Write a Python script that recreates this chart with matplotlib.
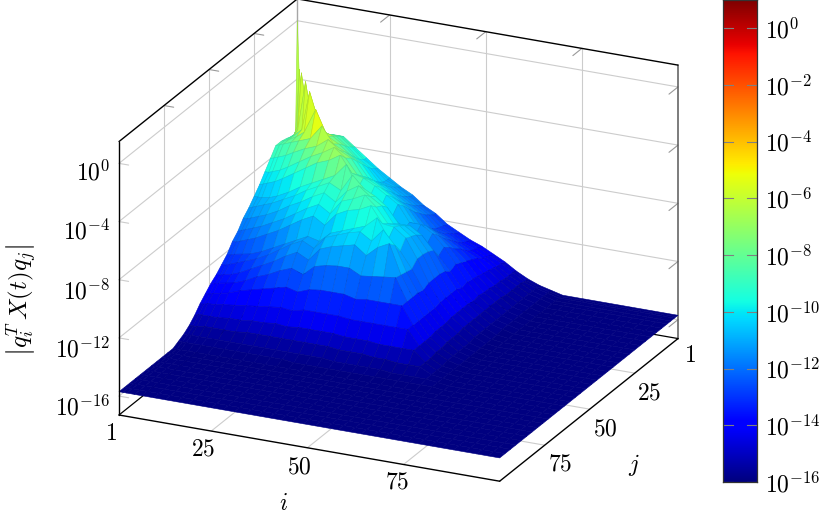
import numpy as np
import matplotlib
matplotlib.use("Agg")
from matplotlib import pyplot as plt
from mpl_toolkits.mplot3d import proj3d

plt.rcParams["mathtext.fontset"] = "cm"
plt.rcParams["font.family"] = ["DejaVu Serif"]

# matrix indices of the rows of the table below, the rest of the matrix is flat
hump_idx = [1, 2, 3, 5, 7, 10, 13, 16, 19, 22, 25, 28, 31, 34, 37, 40, 43, 46, 49, 52, 55, 58, 61, 64, 67, 70]
flat_idx = [73, 76, 79, 82, 85, 88, 91, 94, 97, 100]
floor_level = -15.7

# log10 |q_i^T X q_j|, lower triangle (symmetric matrix)
hump_rows = [
    [0.0],
    [-7.6, -3.2],
    [-7.7, -7.0, -3.3],
    [-7.6, -7.4, -7.0, -3.6],
    [-7.5, -7.4, -7.2, -6.7, -4.0],
    [-7.4, -7.3, -7.2, -6.9, -6.5, -4.8],
    [-7.4, -7.3, -7.2, -7.0, -6.8, -6.5, -5.5],
    [-8.0, -7.9, -7.8, -7.6, -7.3, -6.9, -6.6, -6.0],
    [-8.6, -8.6, -8.5, -8.3, -8.0, -7.5, -7.0, -6.6, -6.1],
    [-9.2, -9.1, -9.0, -8.8, -8.5, -8.0, -7.5, -7.0, -6.7, -6.2],
    [-9.7, -9.7, -9.7, -9.6, -9.4, -9.0, -8.5, -8.1, -7.7, -7.3, -6.4],
    [-10.2, -10.1, -10.0, -9.8, -9.6, -9.2, -8.8, -8.3, -7.9, -7.5, -7.9, -6.7],
    [-10.6, -10.6, -10.5, -10.3, -10.1, -9.7, -9.2, -8.8, -8.3, -7.9, -8.4, -7.5, -7.0],
    [-11.2, -11.1, -11.0, -10.8, -10.6, -10.2, -9.8, -9.3, -8.8, -8.4, -8.9, -7.9, -7.6, -7.2],
    [-11.6, -11.6, -11.5, -11.3, -11.1, -10.7, -10.3, -9.8, -9.3, -8.9, -9.4, -8.5, -8.1, -7.9, -7.5],
    [-12.2, -12.2, -12.1, -12.0, -11.9, -11.6, -11.2, -10.8, -10.4, -10.0, -10.2, -9.5, -9.2, -8.9, -8.6, -7.9],
    [-12.6, -12.6, -12.5, -12.3, -12.1, -11.8, -11.4, -10.9, -10.4, -10.0, -10.4, -9.5, -9.2, -8.9, -8.7, -9.2, -8.3],
    [-13.0, -13.0, -12.9, -12.8, -12.6, -12.2, -11.8, -11.4, -10.9, -10.5, -10.9, -10.0, -9.7, -9.5, -9.3, -9.9, -9.2, -8.8],
    [-13.3, -13.3, -13.2, -13.1, -13.0, -12.7, -12.3, -12.0, -11.6, -11.3, -11.6, -10.9, -10.7, -10.6, -10.6, -11.0, -10.9, -10.8, -10.7],
    [-13.7, -13.7, -13.6, -13.5, -13.4, -13.1, -12.9, -12.7, -12.5, -12.3, -12.5, -12.2, -12.1, -12.1, -12.1, -12.3, -12.2, -12.2, -12.2, -12.2],
    [-14.1, -14.1, -14.0, -14.0, -13.9, -13.8, -13.7, -13.6, -13.5, -13.4, -13.5, -13.3, -13.3, -13.3, -13.3, -13.4, -13.4, -13.4, -13.4, -13.4, -13.4],
    [-14.6, -14.5, -14.5, -14.5, -14.5, -14.4, -14.4, -14.3, -14.3, -14.2, -14.3, -14.2, -14.2, -14.2, -14.2, -14.3, -14.3, -14.3, -14.4, -14.4, -14.4, -14.4],
    [-15.0, -15.0, -15.0, -14.9, -14.9, -14.9, -14.9, -14.8, -14.8, -14.8, -14.8, -14.8, -14.8, -14.8, -14.8, -14.9, -14.9, -14.9, -15.0, -15.0, -15.1, -15.1, -15.1],
    [-15.3, -15.3, -15.3, -15.3, -15.3, -15.3, -15.3, -15.3, -15.3, -15.3, -15.3, -15.3, -15.3, -15.3, -15.3, -15.4, -15.4, -15.4, -15.4, -15.4, -15.5, -15.5, -15.5, -15.5],
    [-15.5, -15.5, -15.5, -15.5, -15.5, -15.5, -15.5, -15.5, -15.5, -15.5, -15.5, -15.5, -15.6, -15.6, -15.6, -15.6, -15.6, -15.6, -15.6, -15.6, -15.6, -15.6, -15.6, -15.6, -15.6],
    [-15.7, -15.7, -15.7, -15.7, -15.7, -15.7, -15.7, -15.7, -15.7, -15.7, -15.7, -15.7, -15.7, -15.7, -15.7, -15.7, -15.7, -15.7, -15.7, -15.7, -15.7, -15.7, -15.7, -15.7, -15.7, -15.7],
]

# height -> position in jet
colour_z = [-15.7, -15.0, -14.0, -13.0, -12.0, -11.0, -10.0, -9.0, -8.0, -7.3, -6.3, -5.8, -5.0, -3.2, 0.0]
colour_pos = [0.0, 0.03, 0.09, 0.14, 0.19, 0.24, 0.29, 0.34, 0.39, 0.44, 0.54, 0.63, 0.58, 0.53, 0.52]

i_ticks = [25, 50, 75]
j_ticks = [25, 50, 75]
z_ticks = [0, -4, -8, -12, -16]
cbar_ticks = [0, -2, -4, -6, -8, -10, -12, -14, -16]
cbar_range = [-16, 1]
xlims = [1, 100]
zlims = [-17.3, 1.5]

W, H = 830, 518
fig = plt.figure(figsize=(W / 100, H / 100), dpi=100)


def fx(px):
    return px / W


def fy(py):
    return 1 - py / H


# build the full symmetric matrix
idx = np.array(hump_idx + flat_idx)
Z = np.full((len(idx), len(idx)), floor_level)
for r, row in enumerate(hump_rows):
    for c, val in enumerate(row):
        Z[r, c] = val
        Z[c, r] = val
X, Y = np.meshgrid(idx, idx)

ax = fig.add_axes([0, 0, 1, 1], projection="3d", computed_zorder=False)
ax.set_proj_type("ortho")
ax.view_init(elev=21.9, azim=-65)
ax.set_box_aspect((419, 421, 294))
ax.set_axis_off()

# colour of a facet from the mean of its corners, mesh lines a bit darker
zmean = (Z[:-1, :-1] + Z[1:, :-1] + Z[:-1, 1:] + Z[1:, 1:]) / 4
facecol = plt.get_cmap("jet")(np.interp(zmean, colour_z, colour_pos))
edgecol = facecol.copy()
edgecol[:, :, :3] *= np.where(zmean < -15.3, 1.0, 0.88)[:, :, None]
surf = ax.plot_surface(X, Y, Z, facecolors=facecol, rstride=1, cstride=1, shade=False, zorder=2)
surf.set_edgecolor(edgecol.reshape(-1, 4))
surf.set_linewidth(0.4)

gridc = "0.8"
x0, x1 = xlims
z0, z1 = zlims


def line(xs, ys, zs, c=gridc, lw=0.8, zo=1):
    ax.plot(xs, ys, zs, color=c, lw=lw, zorder=zo, solid_capstyle="round")


# grid on the two back walls and the floor
for z in z_ticks:
    line([x0, x0], [x1, x0], [z, z])
    line([x0, x1], [x0, x0], [z, z])
    line([x0, x0 + 2.5], [x1, x1], [z, z])
    line([x1, x1], [x0, x0 + 5], [z, z], c="0.6")
for t in i_ticks:
    line([t, t], [x0, x0], [z0, z1])
    line([t, t], [x0, x1], [z0, z0])
    line([t, t], [x0, x0 + 5], [z1, z1], c="0.6")
for t in j_ticks:
    line([x0, x0], [t, t], [z0, z1])
    line([x0, x1], [t, t], [z0, z0])
    line([x0, x0 + 2.5], [t, t], [z1, z1], c="0.6")

# box
line([x0, x0], [x0, x0], [z0, z1], c="0.65", lw=1.0)
line([x1, x1], [x0, x0], [z0, z1], c="0.35", lw=1.1)
line([x0, x0], [x0, x1], [z0, z0], c="k", lw=0.9)
line([x0, x1], [x0, x0], [z0, z0], c="k", lw=0.9)
line([x0, x0], [x1, x0], [z1, z1], c="k", lw=1.0, zo=3)
line([x0, x1], [x0, x0], [z1, z1], c="k", lw=1.0, zo=3)
line([x0, x0], [x1, x1], [z0, z1], c="k", lw=1.0, zo=3)
line([x0, x1], [x1, x1], [z0, z0], c="k", lw=1.0, zo=3)
line([x1, x1], [x1, x0], [z0, z0], c="k", lw=1.0, zo=3)

ax.set_xlim(x0, x1)
ax.set_ylim(x1, x0)
ax.set_zlim(z0, z1)


# place the square 3d axes so that the box lands on the reference pixels
def corner(x, y, z):
    xs, ys, _ = proj3d.proj_transform(x, y, z, ax.get_proj())
    return ax.transData.transform((xs, ys))


fig.canvas.draw()
w_now = corner(x1, x0, z0)[0] - corner(x0, x1, z0)[0]
S = H * 559 / w_now
ax.set_position([0, 0, S / W, S / H])
fig.canvas.draw()
p = corner(x0, x1, z0)
ax.set_position([(119 - p[0]) / W, (H - 415 - p[1]) / H, S / W, S / H])

# tick labels and axis labels
fs = 17
for z, py in zip(z_ticks, [173, 232, 292, 350, 408]):
    fig.text(fx(110), fy(py), "$10^{%d}$" % z, fontsize=fs, ha="right", va="center")
for lab, px, py in zip([1] + i_ticks, [111, 203, 299, 397], [433, 449, 467, 482]):
    fig.text(fx(px), fy(py), "$%d$" % lab, fontsize=fs, ha="center", va="center")
for lab, px, py in zip([1] + j_ticks, [690, 649, 605, 560], [355, 393, 429, 464]):
    fig.text(fx(px), fy(py), "$%d$" % lab, fontsize=fs, ha="center", va="center")
fig.text(fx(283), fy(504), "$i$", fontsize=fs, ha="center", va="center")
fig.text(fx(634), fy(465), "$j$", fontsize=fs, ha="center", va="center")
fig.text(fx(22), fy(300), r"$\left|q_i^T\,X(t)q_j\right|$", fontsize=fs + 1, rotation=90, ha="center", va="center")

# colour bar
cax = fig.add_axes([fx(723), fy(482), 34 / W, 482 / H])
grad = np.linspace(cbar_range[0], cbar_range[1], 256).reshape(-1, 1)
cax.imshow(grad, cmap="jet", aspect="auto", origin="lower", extent=[0, 1, cbar_range[0], cbar_range[1]])
cax.set_xticks([])
cax.set_yticks(cbar_ticks)
cax.set_yticklabels(["$10^{%d}$" % t for t in cbar_ticks], fontsize=fs)
cax.yaxis.tick_right()
cax.tick_params(axis="y", length=0, pad=6)
for t in cbar_ticks:
    cax.plot([0, 0.3], [t, t], color="0.5", lw=0.8)
    cax.plot([0.7, 1], [t, t], color="0.5", lw=0.8)
cax.set_xlim(0, 1)
cax.set_ylim(cbar_range)
for s in cax.spines.values():
    s.set_linewidth(0.9)
    s.set_color("0.2")

fig.savefig("out.png", dpi=100)
